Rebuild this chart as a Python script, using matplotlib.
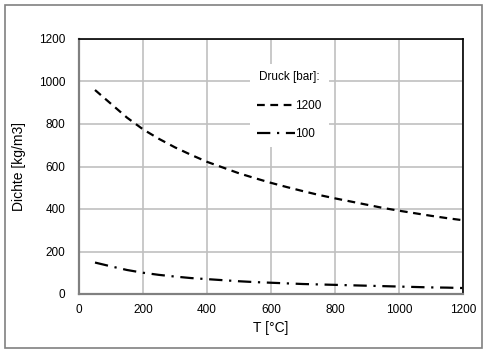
import matplotlib.pyplot as plt
from matplotlib.patches import Rectangle

plt.rcParams['font.family'] = ['Liberation Sans', 'DejaVu Sans']

T = [50, 100, 150, 200, 250, 300, 350, 400, 450, 500, 550, 600,
     650, 700, 750, 800, 850, 900, 950, 1000, 1050, 1100, 1150, 1200]
rho_1200 = [960, 895, 830, 775, 730, 690, 655, 622, 595, 568, 545, 523,
            503, 484, 466, 450, 435, 420, 405, 392, 380, 368, 357, 347]
rho_100 = [148, 130, 113, 100, 90, 82, 75, 70, 65, 60, 56, 53,
           50, 47, 45, 43, 41, 39, 37, 35, 33, 31, 30, 28]

fig = plt.figure(figsize=(4.85, 3.52), dpi=100)
ax = fig.add_axes([79/485, 1 - 294/352, 384/485, 255/352])

ax.plot(T, rho_1200, color='black', lw=1.6, ls=(0, (3.5, 2.5)), label='1200')
ax.plot(T, rho_100, color='black', lw=1.6, ls=(0, (6, 3, 1, 3)), label='100')

ax.set_xlim(0, 1200)
ax.set_ylim(0, 1200)
ax.set_xticks(range(0, 1201, 200))
ax.set_yticks(range(0, 1201, 200))
ax.grid(True, color='#c0c0c0', lw=1.2)
ax.tick_params(length=0, labelsize=8.5)
ax.tick_params(axis='y', pad=10)
ax.tick_params(axis='x', pad=7)
ax.set_axisbelow(True)
for s in ['top', 'right']:
    ax.spines[s].set_color('black')
    ax.spines[s].set_linewidth(1.2)
for s in ['left', 'bottom']:
    ax.spines[s].set_color('#808080')
    ax.spines[s].set_linewidth(1.6)

ax.set_xlabel('T [°C]', fontsize=10, labelpad=4)
ax.set_ylabel('Dichte [kg/m3]', fontsize=10, labelpad=9)

leg = ax.legend(title='Druck [bar]:', loc='upper left', bbox_to_anchor=(0.43, 0.925),
                frameon=True, fontsize=8.5, title_fontsize=8.5, handlelength=3.2,
                handletextpad=0.05, borderpad=0.6, labelspacing=1.4)
leg.get_frame().set_edgecolor('none')
leg.get_frame().set_facecolor('white')
leg.get_frame().set_alpha(1)

fig.patches.append(Rectangle((5/485, 4/352), 477/485, 343/352, transform=fig.transFigure,
                             fill=False, edgecolor='#808080', lw=1.2))

fig.savefig('out.png', dpi=100)
